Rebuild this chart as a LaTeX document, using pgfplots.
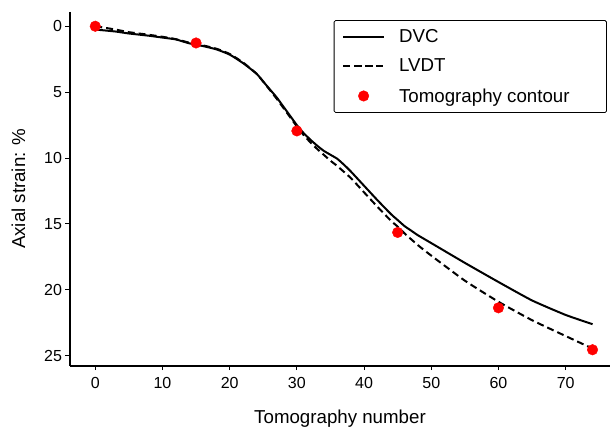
\documentclass[border=0pt]{standalone}
\usepackage{pgfplots}
\pgfplotsset{compat=1.18}
\usepackage{fontspec}
\setmainfont{Liberation Sans}
\pgfplotsset{
  mylegend/.style={legend image code/.code={\draw[mark repeat=2,mark phase=2,#1,line width=2pt] plot coordinates {(0pt,0pt) (20.5pt,0pt) (41pt,0pt)};}},
  mylegendm/.style={legend image code/.code={\draw[mark repeat=2,mark phase=2,#1,line width=0.4pt] plot coordinates {(0pt,0pt) (20.5pt,0pt) (41pt,0pt)};}}}
\begin{document}
\begin{tikzpicture}
\begin{axis}[
  name=ax,
  scale only axis,
  width=540pt, height=353.7pt,
  xmin=-3.76, xmax=76.6,
  ymin=-1.08, ymax=25.75,
  y dir=reverse,
  axis x line*=bottom,
  axis y line*=left,
  axis line style={line width=1.6pt, -},
  xtick={0,10,...,70},
  ytick={0,5,...,25},
  tick align=outside,
  major tick length=4.5pt,
  tick style={line width=1pt, black},
  /pgf/number format/assume math mode=true,
  ticklabel style={font=\fontsize{16}{19}\selectfont},
  xticklabel style={yshift=-4pt},
  xlabel={Tomography number},
  ylabel={Axial strain: \%},
  label style={font=\fontsize{18.7}{22}\selectfont},
  xlabel style={yshift=-14pt},
  ylabel style={yshift=12pt},
  legend cell align=left,
  legend style={at={(rel axis cs:0.9944,0.977)}, anchor=north east,
    font=\fontsize{18.7}{22}\selectfont, draw=black, line width=0.8pt,
    rounded corners=1.5pt, row sep=11pt, column sep=12pt, inner xsep=8pt, inner ysep=7pt},
]
\addplot[mylegend, black, line width=2pt, smooth, tension=0.3] coordinates {
(0,0.25) (3,0.4) (5,0.55) (8,0.72) (10,0.86) (12,1.0) (14,1.3) (16,1.5) (18,1.75)
(20,2.15) (22,2.8) (24,3.6) (25,4.2) (26,4.8) (27,5.4) (28,6.1) (29,6.8) (30,7.5)
(31,8.1) (32,8.6) (33,9.05) (34,9.45) (35,9.75) (36,10.05) (37,10.5) (38,11.0)
(40,12.1) (42,13.2) (44,14.25) (45,14.7) (46,15.15) (47,15.5) (48,15.85) (50,16.45)
(55,17.95) (60,19.4) (65,20.8) (70,21.9) (74,22.6)};
\addlegendentry{DVC}
\addplot[mylegend, black, line width=2pt, dash pattern=on 7pt off 4pt, smooth, tension=0.3] coordinates {
(0,0.0) (3,0.25) (5,0.45) (8,0.65) (10,0.8) (12,0.98) (14,1.25) (16,1.45) (18,1.7)
(20,2.1) (22,2.75) (24,3.6) (25,4.2) (26,4.85) (27,5.5) (28,6.2) (29,6.9) (30,7.6)
(31,8.25) (32,8.8) (33,9.3) (34,9.75) (35,10.2) (36,10.6) (38,11.5) (40,12.6)
(42,13.7) (44,14.75) (45,15.2) (46,15.7) (48,16.6) (50,17.4) (55,19.3) (60,20.9)
(65,22.3) (70,23.5) (74,24.45)};
\addlegendentry{LVDT}
\addplot[mylegendm, only marks, mark=*, mark size=5.3pt, color=red, fill=red] coordinates {
(0,0.0) (15,1.27) (30,7.94) (45,15.64) (60,21.36) (74,24.54)};
\addlegendentry{Tomography contour\hspace*{27pt}}
\end{axis}
\path ([xshift=-70pt,yshift=-62.3pt]ax.south west) rectangle ([xshift=1pt,yshift=12pt]ax.north east);
\end{tikzpicture}
\end{document}
